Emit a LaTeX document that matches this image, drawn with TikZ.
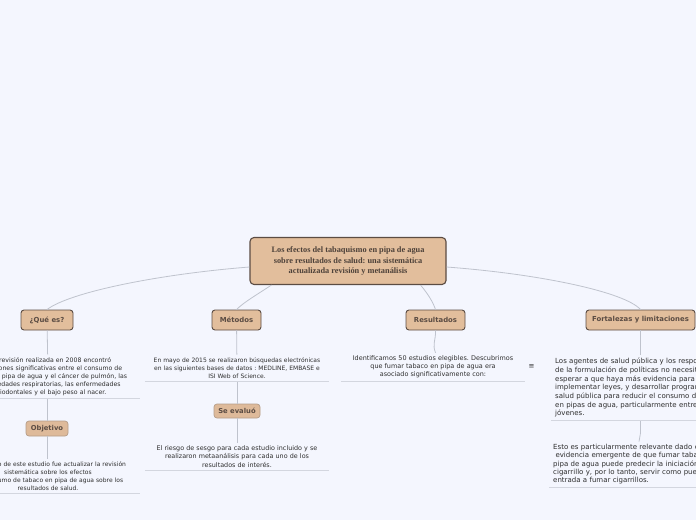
\documentclass[tikz,border=0pt]{standalone}
\usepackage{fontspec}
\setmainfont{DejaVu Sans}
\newfontfamily\titlefont{Liberation Serif}
\usetikzlibrary{positioning,calc}
\definecolor{paper}{HTML}{F4F6FE}
\definecolor{tan}{HTML}{E2BE9C}
\definecolor{tanlight}{HTML}{DEBA9A}
\definecolor{bark}{HTML}{5B4C43}
\definecolor{barklight}{HTML}{B59C88}
\definecolor{ink}{HTML}{2E2E2E}
\definecolor{linkgrey}{HTML}{BFC3CD}
\definecolor{rulegrey}{HTML}{D3D6DF}
\frenchspacing

\begin{document}
\begin{tikzpicture}[x=1pt,y=-1pt,
  topic/.style={draw=bark,line width=0.9pt,rounded corners=3pt,fill=tan,text=bark,font=\fontsize{6.9}{7}\selectfont\bfseries,minimum height=20pt},
  subtopic/.style={draw=barklight,line width=0.7pt,rounded corners=3pt,fill=tanlight,text=bark,font=\fontsize{6.8}{7}\selectfont\bfseries,minimum height=15pt},
  note/.style={text=ink,align=center,text width=176pt,inner xsep=4pt,inner ysep=2.5pt,anchor=south},
  link/.style={draw=linkgrey,line width=0.8pt},
  uline/.style={draw=rulegrey,line width=1pt}]
\clip (0,0) rectangle (696,520);
\fill[paper] (0,0) rectangle (696,520);

\node[draw=bark,line width=1.1pt,rounded corners=4pt,fill=tan,text=bark!85!black,align=center,minimum width=196pt,minimum height=47pt,font=\titlefont\fontsize{8.3}{10.5}\selectfont\bfseries] (title) at (348,261) {Los efectos del tabaquismo en pipa de agua\\sobre resultados de salud: una sistemática\\actualizada revisión y metanálisis};

\node[topic,minimum width=52pt] (quees) at (47,320) {¿Qué es?};
\node[topic,minimum width=49pt] (metodos) at (236.5,320) {Métodos};
\node[topic,minimum width=59pt] (resultados) at (435.5,320) {Resultados};
\node[topic,minimum width=109pt] (fortalezas) at (640.5,320) {Fortalezas y limitaciones};

\node[note,font=\fontsize{6.2}{8}\selectfont] (quees-txt) at (48,398) {Una revisión realizada en 2008 encontró\\asociaciones significativas entre el consumo de\\tabaco en pipa de agua y el cáncer de pulmón, las\\enfermedades respiratorias, las enfermedades\\periodontales y el bajo peso al nacer.};
\node[subtopic,minimum width=42pt] (objetivo) at (47,428.5) {Objetivo};
\node[note,font=\fontsize{6.0}{8}\selectfont] (objetivo-txt) at (48,493) {El objetivo de este estudio fue actualizar la revisión\\sistemática sobre los efectos\\del consumo de tabaco en pipa de agua sobre los\\resultados de salud.};

\node[note,font=\fontsize{6.0}{8}\selectfont] (metodos-txt) at (237,381) {En mayo de 2015 se realizaron búsquedas electrónicas\\en las siguientes bases de datos : MEDLINE, EMBASE e\\ISI Web of Science.};
\node[subtopic,minimum width=46pt,minimum height=14pt] (seevaluo) at (237,411) {Se evaluó};
\node[note,font=\fontsize{6.4}{8.5}\selectfont] (seevaluo-txt) at (237,470) {El riesgo de sesgo para cada estudio incluido y se\\realizaron metaanálisis para cada uno de los\\resultados de interés.};

\node[note,font=\fontsize{6.45}{8.3}\selectfont] (resultados-txt) at (433,381) {Identificamos 50 estudios elegibles. Descubrimos\\que fumar tabaco en pipa de agua era\\asociado significativamente con:};
\node[text=ink,font=\fontsize{7}{8}\selectfont,right=0pt of resultados-txt] (menu) {≡};

\node[note,anchor=south west,align=left,font=\fontsize{7}{8.7}\selectfont] (fortalezas-txt) at (551,420) {Los agentes de salud pública y los responsables\\de la formulación de políticas no necesitan\\esperar a que haya más evidencia para\\implementar leyes, y desarrollar programas de\\salud pública para reducir el consumo de tabaco\\en pipas de agua, particularmente entre los\\jóvenes.};
\node[note,anchor=south west,align=left,font=\fontsize{7}{8.3}\selectfont] (fortalezas-txt2) at (549,487) {Esto es particularmente relevante dado el\\\ evidencia emergente de que fumar tabaco en\\pipa de agua puede predecir la iniciación del\\cigarrillo y, por lo tanto, servir como puerta de\\entrada a fumar cigarrillos.};

\draw[link] ($(title.west)+(0,6)$) .. controls (160,274) and (70,292) .. (quees.north);
\draw[link] ($(title.south west)+(22,0)$) .. controls (258,294) and (244,302) .. (metodos.north);
\draw[link] ($(title.south east)+(-26,0)$) .. controls (428,294) and (433,302) .. (resultados.north);
\draw[link] ($(title.east)+(0,6)$) .. controls (540,274) and (625,292) .. (fortalezas.north);

\draw[link] (quees) -- (quees-txt);
\draw[link] (objetivo.north |- quees-txt.south) -- (objetivo);
\draw[link] (objetivo) -- (objetivo.south |- objetivo-txt.north);
\draw[link] (metodos) -- (metodos-txt);
\draw[link] (seevaluo.north |- metodos-txt.south) -- (seevaluo);
\draw[link] (seevaluo) -- (seevaluo-txt);
\draw[link] (resultados.south) .. controls (436,340) and (432,344) .. (resultados.south |- resultados-txt.north);
\draw[link] (fortalezas.south) -- (fortalezas.south |- fortalezas-txt.north);
\draw[link] (fortalezas.south |- fortalezas-txt.south) -- ++(0,13) -- ($(fortalezas.south |- fortalezas-txt2.north)+(-1.5,0)$);

\draw[uline] (quees-txt.south west) -- (quees-txt.south east);
\draw[uline] (objetivo-txt.south west) -- (objetivo-txt.south east);
\draw[uline] (metodos-txt.south west) -- (metodos-txt.south east);
\draw[uline] (seevaluo-txt.south west) -- (seevaluo-txt.south east);
\draw[uline] (resultados-txt.south west) -- (resultados-txt.south east);
\draw[uline] (fortalezas-txt.south west) -- (fortalezas-txt.south east);
\draw[uline] (fortalezas-txt2.south west) -- (fortalezas-txt2.south east);
\end{tikzpicture}
\end{document}
